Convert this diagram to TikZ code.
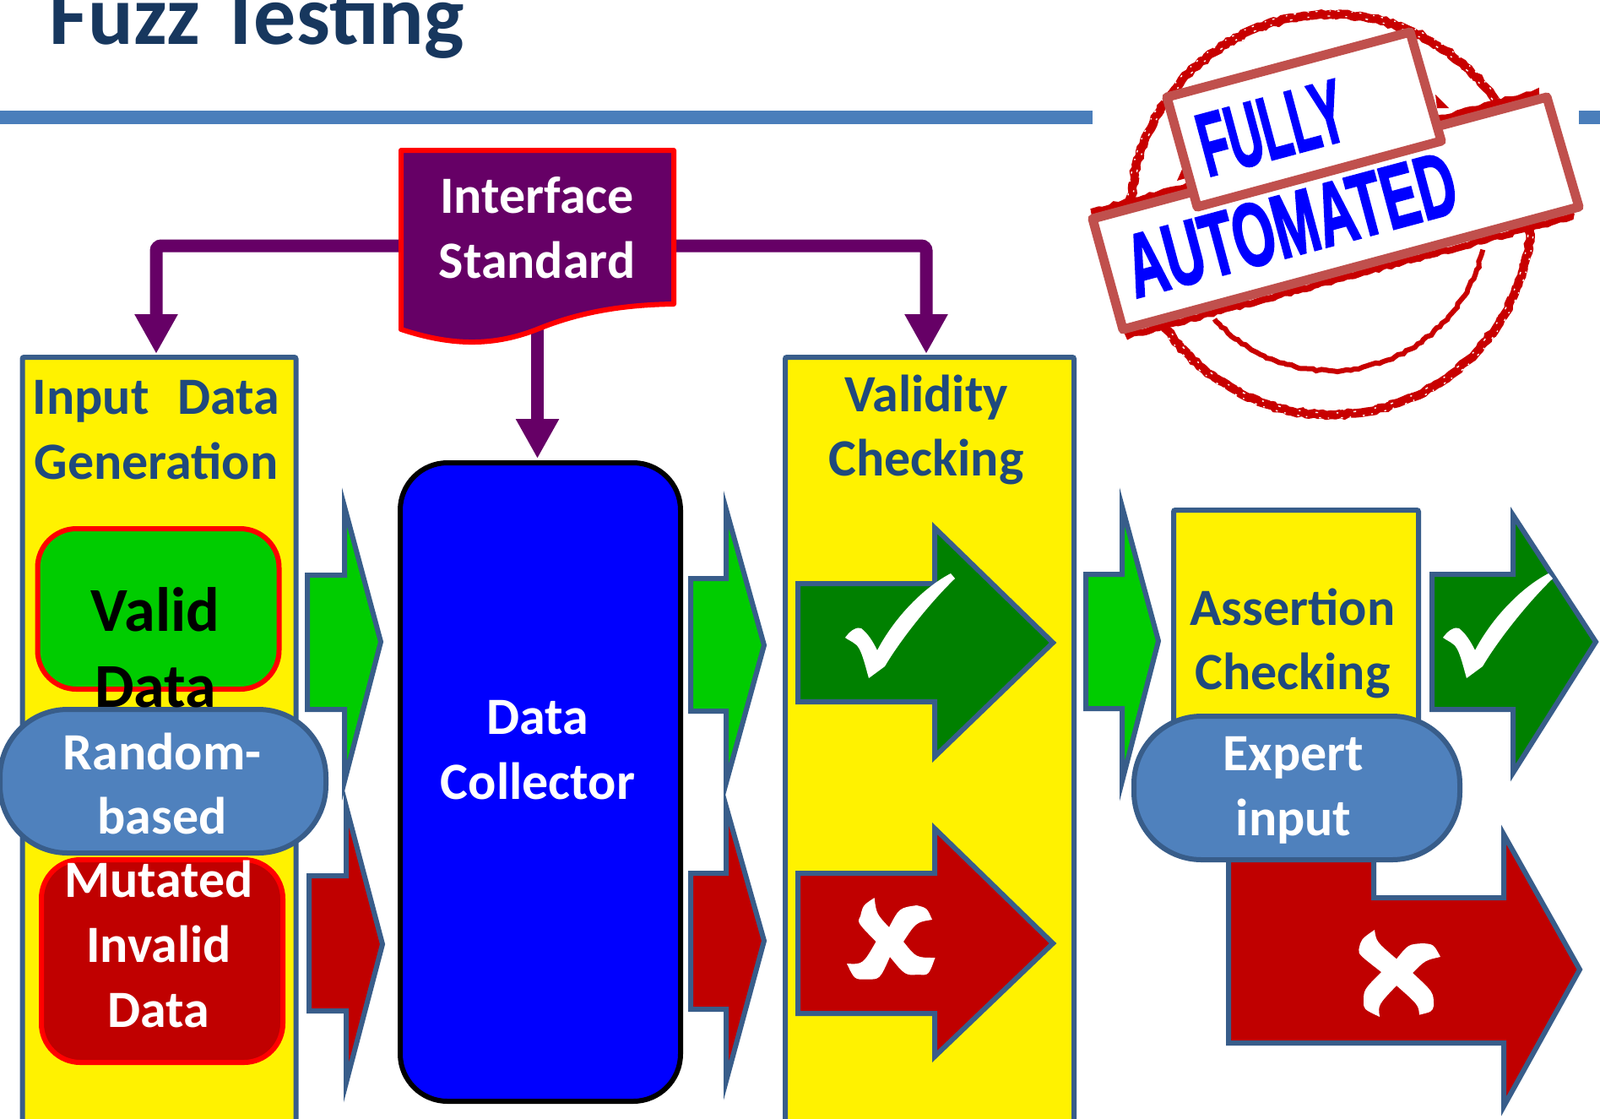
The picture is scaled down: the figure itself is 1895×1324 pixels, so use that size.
\documentclass[tikz,border=0pt]{standalone}
\usepackage{fontspec}
\usepackage{graphicx}
\setmainfont{Carlito}
\usetikzlibrary{arrows.meta,decorations.pathmorphing}
\font\stampf="Liberation Sans/B:embolden=2.5" at 53pt
\definecolor{frameblue}{HTML}{385D8A}
\definecolor{pillblue}{HTML}{4F81BD}
\definecolor{ruleblue}{HTML}{4A7EBB}
\definecolor{headblue}{HTML}{1F497D}
\definecolor{titleblue}{HTML}{17375E}
\definecolor{purp}{HTML}{660066}
\definecolor{brightg}{HTML}{00CC00}
\definecolor{darkg}{HTML}{008000}
\definecolor{darkr}{HTML}{C00000}
\definecolor{salmon}{HTML}{C0504D}
\definecolor{stampred}{HTML}{C80000}
\tikzset{
  x=0.5pt,y=-0.5pt,
  lbl/.style={align=center,inner sep=0pt,font=\fontsize{31}{38.4}\selectfont\bfseries},
  bigl/.style={align=center,inner sep=0pt,font=\fontsize{37}{45}\selectfont\bfseries},
  yellowbox/.style={draw=frameblue,fill=yellow,line width=3pt,anchor=north west,inner sep=0pt,rounded corners=1pt},
  pill/.style={draw=frameblue,fill=pillblue,line width=3pt,inner sep=0pt,rounded corners=40pt},
  block/.style={draw=frameblue,line width=3pt,line join=miter,miter limit=20},
  flow/.style={draw=purp,line width=7.5pt,rounded corners=3pt,-{Triangle[length=23.5pt,width=24pt,inset=0pt]}},
  sal/.style={draw=salmon,fill=white,line width=5.5pt,line join=round},
  grunge/.style={draw=stampred,decorate,decoration={random steps,segment length=2.5pt,amplitude=0.7pt}},
  speck/.style={draw=white,line width=0.7pt}
}
\begin{document}
\begin{tikzpicture}
\clip (0,0) rectangle (1895,1324);
\path[use as bounding box] (0,0) rectangle (1895,1324);
\fill[white] (0,0) rectangle (1895,1324);

% title and rule
\node[anchor=base west,inner sep=0pt,text=titleblue,font=\fontsize{50}{60}\selectfont\bfseries] (title) at (58,52) {Fuzz Testing};
\fill[ruleblue] (0,131) rectangle (1294,147);
\fill[ruleblue] (1870,131) rectangle (1895,147);

% yellow boxes
\node[yellowbox,minimum width=162pt,minimum height=460pt] (inputbox) at (23.5,420) {};
\node[yellowbox,minimum width=171pt,minimum height=460pt] (validbox) at (927,420) {};
\node[yellowbox,minimum width=145pt,minimum height=200pt] (assertbox) at (1387,601) {};

% inner boxes
\node[draw=red,fill=brightg,line width=3pt,rounded corners=23pt,anchor=north west,minimum width=143pt,minimum height=95pt,inner sep=0pt] (validdata) at (41.5,623) {};
\node[draw=red,fill=darkr,line width=3pt,rounded corners=23pt,anchor=north west,minimum width=163pt,minimum height=120pt,inner sep=0pt,minimum width=143pt] (mutdata) at (46,1015) {};

% data collector
\node[draw=black,fill=blue,line width=3pt,rounded corners=28pt,anchor=north west,minimum width=166pt,minimum height=378pt,inner sep=0pt] (collector) at (471,545) {};

% document
\coordinate (ifaceL) at (475,291);
\coordinate (ifaceR) at (798,291);
\coordinate (ifaceB) at (636.5,385);
\coordinate (inputTop) at (185,419);
\coordinate (validTop) at (1097,419);
\coordinate (collTop) at (636.5,543);
\draw[flow] (ifaceL) -| (inputTop);
\draw[flow] (ifaceR) -| (validTop);
\draw[flow] (ifaceB) -- (collTop);
\draw[draw=red,fill=purp,line width=3pt,line join=round]
  (475,178) -- (798,178) -- (798,360)
  .. controls (730,361) and (680,372) .. (636,390)
  .. controls (580,412) and (530,408) .. (475,390) -- cycle;

% flow arrows
\draw[block,fill=brightg] (364,681) -- (408,681) -- (408,600) -- (451,760) -- (408,925) -- (408,840) -- (364,840) -- cycle;
\draw[block,fill=brightg] (818,685) -- (860,685) -- (860,603) -- (905,764) -- (860,927) -- (860,842) -- (818,842) -- cycle;
\draw[block,fill=darkr] (366,1037) -- (410,1037) -- (410,955) -- (453,1118) -- (410,1282) -- (410,1197) -- (366,1197) -- cycle;
\draw[block,fill=darkr] (818,1034) -- (860,1034) -- (860,955) -- (905,1114) -- (860,1280) -- (860,1195) -- (818,1195) -- cycle;
\draw[block,fill=darkg] (945,691) -- (1107,691) -- (1107,625) -- (1247,761) -- (1107,896) -- (1107,831) -- (945,831) -- cycle;
\draw[block,fill=darkr] (945,1034) -- (1107,1034) -- (1107,981) -- (1247,1117) -- (1107,1251) -- (1107,1200) -- (945,1200) -- cycle;
\draw[block,fill=brightg] (1286,680) -- (1329,680) -- (1329,600) -- (1372,759) -- (1329,925) -- (1329,839) -- (1286,839) -- cycle;
\draw[block,fill=darkg] (1696,680) -- (1792,680) -- (1792,610) -- (1890,760) -- (1792,915) -- (1792,840) -- (1696,840) -- cycle;
\draw[block,fill=darkr] (1455,1000) -- (1627,1000) -- (1627,1063) -- (1781,1063) -- (1781,988) -- (1871,1148) -- (1781,1310) -- (1781,1235) -- (1455,1235) -- cycle;

% check marks and crosses
\foreach \dx in {0,708}{
  \fill[white,shift={(\dx,0)}] (1001,755) .. controls (1008,745) and (1016,742) .. (1020,744)
    .. controls (1028,750) and (1034,760) .. (1039,770)
    .. controls (1060,730) and (1095,695) .. (1126,679) -- (1131,685)
    .. controls (1100,715) and (1065,760) .. (1048,789) -- (1029,803)
    .. controls (1025,790) and (1020,765) .. (1012,762)
    .. controls (1010,760) and (1005,758) .. (1001,755) -- cycle;
}
\fill[white] (1035.6,1063) .. controls (1038,1082) .. (1053,1098)
  .. controls (1065,1075) .. (1085.6,1072) .. controls (1098,1075) .. (1104,1089)
  .. controls (1085,1092) .. (1070,1115) .. controls (1085,1134) .. (1107.5,1134)
  .. controls (1100,1155) .. (1087.5,1154) .. controls (1072,1155) .. (1054,1133)
  .. controls (1042,1160) .. (1026,1159.5) .. controls (1012,1160) .. (1003,1141)
  .. controls (1022,1142) .. (1037.5,1115) .. controls (1015,1092) .. (1019,1085)
  .. controls (1022,1072) .. (1035.6,1063) -- cycle;
\fill[white] (1628,1101) .. controls (1630,1115) .. (1654,1135.5)
  .. controls (1668,1118) .. (1685.6,1117) .. controls (1698,1118) .. (1706,1133)
  .. controls (1688,1137) .. (1673,1152) .. controls (1698,1175) .. (1698,1191)
  .. controls (1696,1198) .. (1681,1201.6) .. controls (1680,1190) .. (1654,1167)
  .. controls (1632,1190) .. (1634,1204) .. controls (1615,1195) .. (1615,1186)
  .. controls (1615,1172) .. (1636,1151) .. controls (1609,1130) .. (1609.4,1124)
  .. controls (1612,1112) .. (1628,1101) -- cycle;

% pills
\node[pill,minimum width=193pt,minimum height=85pt] (randompill) at (193,925) {};
\node[pill,minimum width=193pt,minimum height=85pt] (expertpill) at (1536,933) {};

% labels
\node[lbl,text=white] (ifacetxt) at (636,270) {Interface\\Standard};
\node[lbl,text=headblue] (inputtxt) at (185,509) {Input\hspace{0.55em}Data\\Generation};
\node[bigl,text=black] (validtxt) at (184,767) {Valid\\Data};
\node[lbl,text=white] (randomtxt) at (192,928) {Random-\\based};
\node[lbl,text=white] (muttxt) at (188,1118) {Mutated\\Invalid\\Data};
\node[lbl,text=white] (colltxt) at (637,888) {Data\\Collector};
\node[lbl,text=headblue] (validitytxt) at (1097,509) {Validity\\Checking};
\node[lbl,text=headblue] (asserttxt) at (1531,762) {Assertion\\Checking};
\node[lbl,text=white] (experttxt) at (1532,936) {Expert\\input};

% stamp
\draw[grunge,line width=5.2pt] (1576,254) circle[radius=237];
\draw[grunge,line width=3pt] (1576,254) ++(13:185) arc[start angle=13,end angle=138,radius=185];
\foreach \r/\a in {241/{on 1.2pt off 7pt on 0.8pt off 4pt},235/{on 1pt off 11pt on 1.5pt off 9pt},231/{on 0.8pt off 6pt on 1.2pt off 13pt}}{
  \draw[speck,dash pattern/.expanded=\a] (1576,254) circle[radius=\r];
}
\draw[grunge,line width=4pt] (1296,250) -- (1819,110) -- (1860,257) -- (1337,397) -- cycle;
\fill[stampred] (1394,214) -- (1402,196) -- (1408,210) -- cycle;
\fill[stampred] (1700,112) -- (1716,128) -- (1702,128) -- cycle;
\draw[sal] (1294,259) -- (1832,115) -- (1870,245) -- (1330,390) -- cycle;
\draw[sal] (1382,115) -- (1670,38) -- (1707,167) -- (1418,245) -- cycle;
\node[rotate=15,inner sep=0pt,text=blue] (autotxt) at (1529,266) {\scalebox{0.6}[1]{\stampf AUTOMATED}};
\node[rotate=15,inner sep=0pt,text=blue] (fullytxt) at (1506,152) {\scalebox{0.53}[1]{\stampf FULLY}};
\end{tikzpicture}
\end{document}
